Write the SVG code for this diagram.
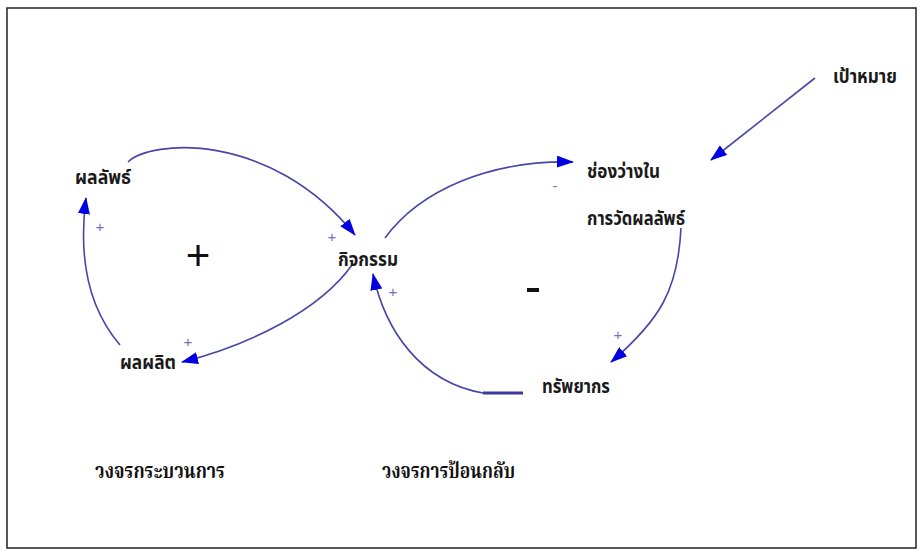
<svg xmlns="http://www.w3.org/2000/svg" width="923" height="555" viewBox="0 0 923 555">
<style>
.lbl{font-family:"Noto Sans Thai","Noto Serif Thai","Liberation Sans",sans-serif;font-weight:bold;font-size:19px;fill:#1a1a1a}
.cap{font-family:"Noto Serif Thai","Noto Sans Thai","Liberation Serif",serif;font-weight:bold;font-size:21px;fill:#111}
.pol{font-family:"Liberation Sans",sans-serif;font-size:15px;fill:#7070c8}
.link{fill:none;stroke:#4646a8;stroke-width:1.6}
</style>
<defs>
<marker id="ah" markerUnits="userSpaceOnUse" markerWidth="18" markerHeight="12" refX="16" refY="6" orient="auto">
<path d="M0,0 L17,6 L0,12 z" fill="#0000e0"/>
</marker>
</defs>
<rect x="0" y="0" width="923" height="555" fill="#fff"/>
<rect x="7" y="8" width="909" height="540" fill="none" stroke="#222" stroke-width="1.5"/>
<g id="connectors">
<path class="link" d="M128,162 C150,140 270,130 355,235" marker-end="url(#ah)"/>
<path class="link" d="M352,265 C320,310 250,345 182,362" marker-end="url(#ah)"/>
<path class="link" d="M120,345 C90,310 78,260 86,198" marker-end="url(#ah)"/>
<path class="link" d="M385,238 C420,190 490,160 573,162" marker-end="url(#ah)"/>
<path class="link" d="M681,228 C678,290 660,320 611,362" marker-end="url(#ah)"/>
<path class="link" d="M483,393 C420,382 385,330 373,274" marker-end="url(#ah)"/>
<line x1="483" y1="393" x2="523" y2="393" stroke="#3a3a98" stroke-width="3"/>
<line class="link" x1="815" y1="78" x2="711" y2="160" marker-end="url(#ah)"/>
<text class="pol" x="100" y="232" text-anchor="middle">+</text>
<text class="pol" x="188" y="347" text-anchor="middle">+</text>
<text class="pol" x="332" y="242" text-anchor="middle">+</text>
<text class="pol" x="393" y="297" text-anchor="middle">+</text>
<text class="pol" x="618" y="340" text-anchor="middle">+</text>
<text class="pol" x="555" y="191" text-anchor="middle">-</text>
</g>
<g id="loop-signs">
<text x="198" y="270" font-family="Liberation Sans,sans-serif" font-size="42" text-anchor="middle" fill="#111">+</text>
<rect x="527" y="288" width="12" height="4" fill="#111"/>
</g>
<g id="n-result"><text class="lbl" x="75" y="184" textLength="56" lengthAdjust="spacingAndGlyphs">ผลลัพธ์</text></g>
<g id="n-output"><text class="lbl" x="120" y="369" textLength="56" lengthAdjust="spacingAndGlyphs">ผลผลิต</text></g>
<g id="n-activity"><text class="lbl" x="338" y="266" textLength="60" lengthAdjust="spacingAndGlyphs">กิจกรรม</text></g>
<g id="n-gap"><text class="lbl" x="587" y="178" textLength="73" lengthAdjust="spacingAndGlyphs">ช่องว่างใน</text><text class="lbl" x="587" y="225" textLength="98" lengthAdjust="spacingAndGlyphs">การวัดผลลัพธ์</text></g>
<g id="n-resource"><text class="lbl" x="542" y="393" textLength="68" lengthAdjust="spacingAndGlyphs">ทรัพยากร</text></g>
<g id="n-goal"><text class="lbl" x="833" y="83" textLength="64" lengthAdjust="spacingAndGlyphs">เป้าหมาย</text></g>
<g id="captions">
<text class="cap" x="95" y="478" textLength="130" lengthAdjust="spacingAndGlyphs">วงจรกระบวนการ</text>
<text class="cap" x="382" y="478" textLength="133" lengthAdjust="spacingAndGlyphs">วงจรการป้อนกลับ</text>
</g>
</svg>
